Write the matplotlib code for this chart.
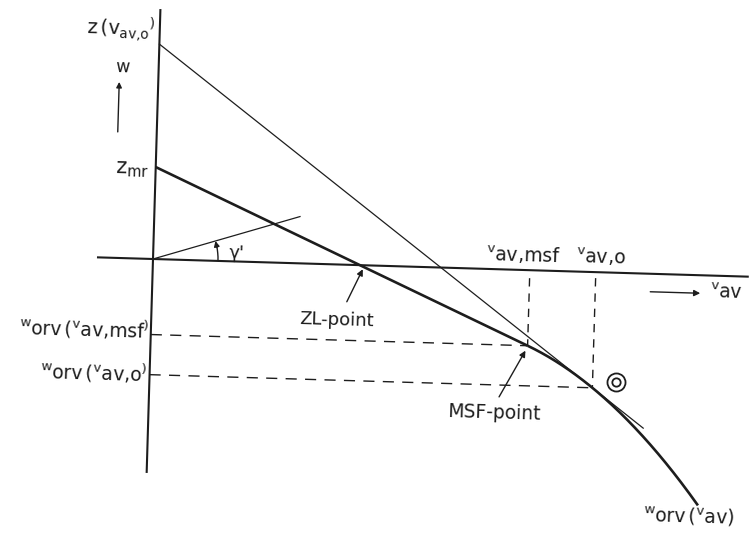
import numpy as np
import matplotlib
matplotlib.use("Agg")
import matplotlib.pyplot as plt
from matplotlib.transforms import Affine2D
from matplotlib.patches import Arc

# ---- diagram values (v_av along x, w along y, origin at the axis crossing) ----
z_vav_o = 215          # intercept of the tangent through the v_av,o point
z_mr = 92              # intercept of the tangent through the MSF point
v_msf = 377            # speed at the MSF point
v_o = 443              # speed v_av,o
v_tangent_end = 495    # where the thin tangent stops
# speed polar w_orv(v_av), points along the drawn curve
polar_v = [375, 410, 441, 485, 513, 534, 552]
polar_w = [-75, -92, -115, -152, -183, -207, -230]
gamma_deg = 17.8       # angle gamma'
gamma_len = 153        # length of the gamma' ray
w_axis = (-213, 249)
v_axis = (-55, 595)

ink = "#1d1d1d"
plt.rcParams["font.family"] = ["DejaVu Sans"]

fig = plt.figure(figsize=(7.55, 5.38), dpi=100)
ax = fig.add_axes([0, 0, 1, 1])
ax.set_xlim(-153, 602)
ax.set_ylim(-279, 259)
ax.axis("off")

tilt = -1.7
T = Affine2D().rotate_deg(tilt) + ax.transData

# polar curve (parabolic fit through the curve points)
polar = np.poly1d(np.polyfit(polar_v, polar_w, 2))
w_msf = polar(v_msf)
w_o = polar(v_o)

# axes
ax.plot([0, 0], w_axis, color=ink, lw=1.5, transform=T)
ax.plot(v_axis, [0, 0], color=ink, lw=1.5, transform=T)

# thin tangent from z(v_av,o)
slope_o = (w_o - z_vav_o) / v_o
ax.plot([0, v_tangent_end], [z_vav_o, z_vav_o + slope_o * v_tangent_end],
        color=ink, lw=0.9, transform=T)

# thick tangent from z_mr and the polar
ax.plot([0, v_msf], [z_mr, w_msf], color=ink, lw=1.9, transform=T,
        solid_capstyle="butt")
vv = np.linspace(v_msf, polar_v[-1], 200)
ax.plot(vv, polar(vv), color=ink, lw=1.9, transform=T, solid_capstyle="butt")

# dashed guides
dash = (0, (8, 6))
ax.plot([0, v_msf], [w_msf, w_msf], color=ink, lw=1.0, ls=dash, transform=T)
ax.plot([0, v_o], [w_o, w_o], color=ink, lw=1.0, ls=dash, transform=T)
ax.plot([v_msf, v_msf], [-8, w_msf], color=ink, lw=1.0, ls=(0, (6, 5)), transform=T)
ax.plot([v_o, v_o], [-6, w_o], color=ink, lw=1.0, ls=(0, (6, 5)), transform=T)

# gamma' ray and angle arc
g = np.radians(gamma_deg)
ax.plot([0, gamma_len * np.cos(g)], [0, gamma_len * np.sin(g)],
        color=ink, lw=0.9, transform=T)
r = 65
ax.add_patch(Arc((0, 0), 2 * r, 2 * r, theta1=0, theta2=gamma_deg - 4,
                 color=ink, lw=1.0, transform=T))
ga = np.radians(gamma_deg - 6)
ax.annotate("", xy=(r * np.cos(g), r * np.sin(g)),
            xytext=(r * np.cos(ga), r * np.sin(ga)), xycoords=T,
            arrowprops=dict(arrowstyle="-|>", color=ink, lw=1.0,
                            mutation_scale=8, shrinkA=0, shrinkB=0))

# pointer arrows
arrow = dict(arrowstyle="-|>", color=ink, lw=1.0, mutation_scale=9,
             shrinkA=0, shrinkB=0)
v_zl = -z_mr / ((w_msf - z_mr) / v_msf)
ax.annotate("", xy=(v_zl + 3, -4), xytext=(v_zl - 12, -37), xycoords=T,
            arrowprops=arrow)
ax.annotate("", xy=(v_msf - 2, w_msf - 5), xytext=(v_msf - 27, w_msf - 52),
            xycoords=T, arrowprops=arrow)
# w direction arrow
ax.annotate("", xy=(-39, 176), xytext=(-39, 126), xycoords=T,
            arrowprops=dict(arrowstyle="-|>", color=ink, lw=1.0,
                            mutation_scale=8, shrinkA=0, shrinkB=0))
# v_av direction arrow
ax.annotate("", xy=(548, -18), xytext=(498, -18), xycoords=T,
            arrowprops=dict(arrowstyle="-|>", color=ink, lw=1.0,
                            mutation_scale=9, shrinkA=0, shrinkB=0))

# double circle marker
ax.plot([466], [-109], marker="o", ms=13, mfc="none", mec=ink, mew=1.3,
        transform=T)
ax.plot([466], [-109], marker="o", ms=6, mfc="none", mec=ink, mew=1.3,
        transform=T)


def label(x, y, s, size=13.5, ha="left", va="center"):
    ax.text(x, y, s, fontsize=size, color=ink, ha=ha, va=va,
            transform=T, rotation=tilt, rotation_mode="anchor")


label(-5, 228, r"$\mathregular{z\,(v_{av{,}o}{}^{)}}$", size=14, ha="right")
label(-36, 191, "w", size=12.5, ha="center")
label(-7, 89, r"$\mathregular{z_{mr}}$", size=15, ha="right")
label(-2, -72, r"$\mathregular{{}^{w}orv\,({}^{v}av{,}msf{}^{)}}$", ha="right")
label(-2, -115, r"$\mathregular{{}^{w}orv\,({}^{v}av{,}o{}^{)}}$", ha="right")
label(370, 15, r"$\mathregular{{}^{v}av{,}msf}$", ha="center")
label(448, 15, r"$\mathregular{{}^{v}av{,}o}$", ha="center")
label(558, -17, r"$\mathregular{{}^{v}av}$", ha="left")
label(185, -56, "ZL-point", size=13, ha="center")
label(345, -144, "MSF-point", size=13.5, ha="center")
label(543, -242, r"$\mathregular{{}^{w}orv\,({}^{v}av)}$", ha="center")
label(84, 8, "\u03b3'", size=13, ha="center")

fig.savefig("out.png", dpi=100, facecolor="white")
